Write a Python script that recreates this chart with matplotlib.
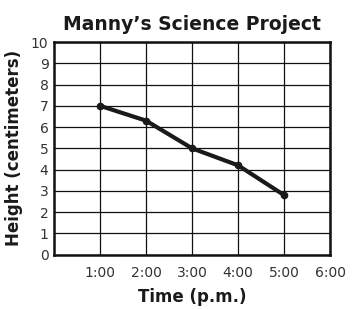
import matplotlib
matplotlib.use("Agg")
import matplotlib.pyplot as plt

# data
hours = [1, 2, 3, 4, 5]
heights = [7.0, 6.3, 5.0, 4.2, 2.8]
x_ticks = [1, 2, 3, 4, 5, 6]
x_tick_labels = ["1:00", "2:00", "3:00", "4:00", "5:00", "6:00"]
y_ticks = list(range(0, 11))

plt.rcParams['font.family'] = ['DejaVu Sans']

fig = plt.figure(figsize=(3.56, 3.09), dpi=100)
ax = fig.add_axes([0.152, 0.176, 0.775, 0.688])

ax.plot(hours, heights, '-o', color='#1a1a1a', linewidth=3.0, markersize=4.5,
        solid_capstyle='round', zorder=3)

ax.set_xlim(0, 6)
ax.set_ylim(0, 10)
ax.set_xticks(x_ticks)
ax.set_xticklabels(x_tick_labels)
ax.set_yticks(y_ticks)
ax.grid(True, color='#111111', linewidth=0.9)
ax.tick_params(length=0, labelsize=10, labelcolor='#333333')
ax.tick_params(axis='x', pad=8)
ax.tick_params(axis='y', pad=4)
for s in ax.spines.values():
    s.set_linewidth(1.8)
    s.set_color('#111111')

ax.set_title("Manny\u2019s Science Project", fontsize=13.5, fontweight='bold',
             color='#1a1a1a', pad=9)
ax.set_xlabel("Time (p.m.)", fontsize=12, fontweight='bold', color='#1a1a1a', labelpad=6)
ax.set_ylabel("Height (centimeters)", fontsize=12, fontweight='bold', color='#1a1a1a', labelpad=6)

fig.savefig("out.png", dpi=100, facecolor='white')
